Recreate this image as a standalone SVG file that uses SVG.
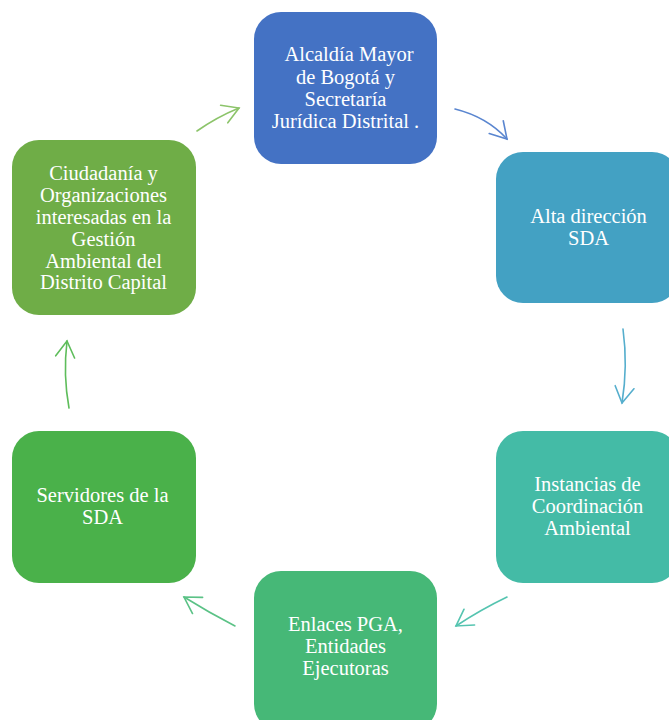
<svg xmlns="http://www.w3.org/2000/svg" width="669" height="720" viewBox="0 0 669 720">
<style>
.box{stroke:none}
.t{font-family:"Liberation Serif","Times New Roman",serif;font-size:20.5px;fill:#ffffff;text-anchor:middle}
.c{fill:none;stroke-width:1.6;stroke-linecap:round}
</style>
<defs>
<marker id="m1" markerUnits="userSpaceOnUse" markerWidth="40" markerHeight="40" refX="0" refY="0" viewBox="-20 -20 40 40" orient="auto" overflow="visible"><path d="M-16,-9.5 L0,0 L-16,9.5" fill="none" stroke="#8cc46a" stroke-width="1.6" stroke-linecap="round"/></marker>
<marker id="m2" markerUnits="userSpaceOnUse" markerWidth="40" markerHeight="40" refX="0" refY="0" viewBox="-20 -20 40 40" orient="auto" overflow="visible"><path d="M-16,-9.5 L0,0 L-16,9.5" fill="none" stroke="#5a86d0" stroke-width="1.6" stroke-linecap="round"/></marker>
<marker id="m3" markerUnits="userSpaceOnUse" markerWidth="40" markerHeight="40" refX="0" refY="0" viewBox="-20 -20 40 40" orient="auto" overflow="visible"><path d="M-16,-9.5 L0,0 L-16,9.5" fill="none" stroke="#55aecd" stroke-width="1.6" stroke-linecap="round"/></marker>
<marker id="m4" markerUnits="userSpaceOnUse" markerWidth="40" markerHeight="40" refX="0" refY="0" viewBox="-20 -20 40 40" orient="auto" overflow="visible"><path d="M-16,-9.5 L0,0 L-16,9.5" fill="none" stroke="#55c4b0" stroke-width="1.6" stroke-linecap="round"/></marker>
<marker id="m5" markerUnits="userSpaceOnUse" markerWidth="40" markerHeight="40" refX="0" refY="0" viewBox="-20 -20 40 40" orient="auto" overflow="visible"><path d="M-16,-9.5 L0,0 L-16,9.5" fill="none" stroke="#5bc286" stroke-width="1.6" stroke-linecap="round"/></marker>
<marker id="m6" markerUnits="userSpaceOnUse" markerWidth="40" markerHeight="40" refX="0" refY="0" viewBox="-20 -20 40 40" orient="auto" overflow="visible"><path d="M-16,-9.5 L0,0 L-16,9.5" fill="none" stroke="#5ebd5b" stroke-width="1.6" stroke-linecap="round"/></marker>
</defs>
<rect width="669" height="720" fill="#ffffff"/>
<g id="connectors">
<path class="c" stroke="#8cc46a" d="M197,131 Q217,117 239,108" marker-end="url(#m1)"/>
<path class="c" stroke="#5a86d0" d="M455,109 Q487,117 507,139" marker-end="url(#m2)"/>
<path class="c" stroke="#55aecd" d="M623,329 Q628,366 622,403" marker-end="url(#m3)"/>
<path class="c" stroke="#55c4b0" d="M507,597 Q480,610 456,626" marker-end="url(#m4)"/>
<path class="c" stroke="#5bc286" d="M235,626 Q208,612 184,597" marker-end="url(#m5)"/>
<path class="c" stroke="#5ebd5b" d="M69,408 Q63,375 67,341" marker-end="url(#m6)"/>
</g>
<g id="node-alcaldia">
<rect class="box" x="254" y="12" width="183" height="152" rx="27" fill="#4472c4"/>
<text class="t"><tspan x="349" y="61">Alcaldía Mayor</tspan><tspan x="345.5" y="83.5">de Bogotá y</tspan><tspan x="345.5" y="106">Secretaría</tspan><tspan x="345.5" y="128">Jurídica Distrital .</tspan></text>
</g>
<g id="node-alta">
<rect class="box" x="496" y="152" width="183" height="151" rx="27" fill="#43a1c3"/>
<text class="t"><tspan x="588.5" y="223">Alta dirección</tspan><tspan x="588.5" y="245">SDA</tspan></text>
</g>
<g id="node-instancias">
<rect class="box" x="496" y="431" width="183" height="152" rx="27" fill="#44bba6"/>
<text class="t"><tspan x="587.5" y="491">Instancias de</tspan><tspan x="587.5" y="513">Coordinación</tspan><tspan x="587.5" y="535">Ambiental</tspan></text>
</g>
<g id="node-enlaces">
<rect class="box" x="254" y="571" width="183" height="160" rx="27" fill="#46b877"/>
<text class="t"><tspan x="345.5" y="631">Enlaces PGA,</tspan><tspan x="345.5" y="653">Entidades</tspan><tspan x="345.5" y="675">Ejecutoras</tspan></text>
</g>
<g id="node-servidores">
<rect class="box" x="12" y="431" width="184" height="152" rx="27" fill="#4ab14a"/>
<text class="t"><tspan x="102.5" y="502">Servidores de la</tspan><tspan x="102.5" y="524">SDA</tspan></text>
</g>
<g id="node-ciudadania">
<rect class="box" x="12" y="140" width="184" height="175" rx="27" fill="#6fad47"/>
<text class="t"><tspan x="103.5" y="180">Ciudadanía y</tspan><tspan x="103.5" y="202">Organizaciones</tspan><tspan x="103.5" y="224">interesadas en la</tspan><tspan x="103.5" y="246">Gestión</tspan><tspan x="103.5" y="267.5">Ambiental del</tspan><tspan x="103.5" y="289">Distrito Capital</tspan></text>
</g>
</svg>
